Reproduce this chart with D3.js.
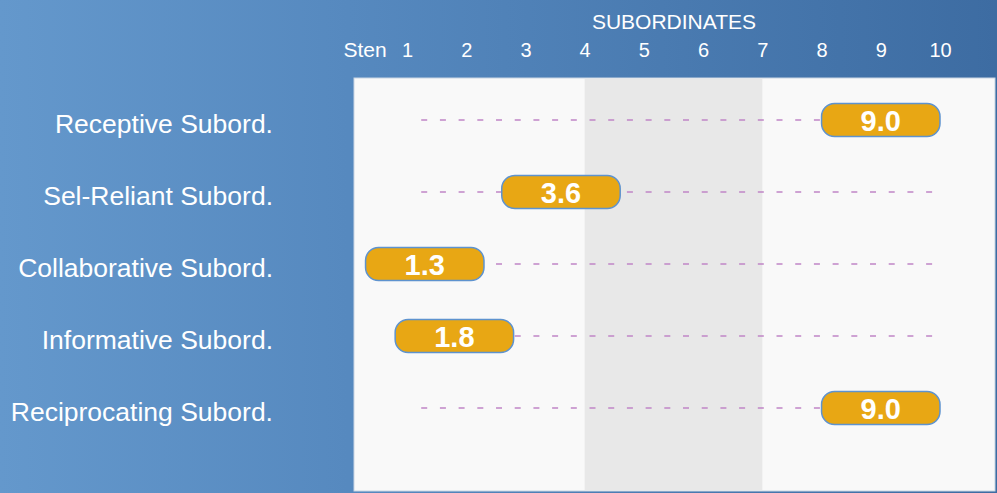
<!DOCTYPE html>
<html>
<head>
<meta charset="utf-8">
<script src="https://d3js.org/d3.v7.min.js"></script>
<style>
    body { margin: 0; padding: 0; overflow: hidden; }
    svg { display: block; font-family: "Liberation Sans", Arial, sans-serif; }
</style>
</head>
<body>
<div id="chart"></div>
<script>
    // data
    var scales = ["Receptive Subord.", "Sel-Reliant Subord.", "Collaborative Subord.", "Informative Subord.", "Reciprocating Subord."];
    var scores = [9.0, 3.6, 1.3, 1.8, 9.0];
    var stenTicks = [1, 2, 3, 4, 5, 6, 7, 8, 9, 10];
    var averageBand = [4, 7];
    var title = "SUBORDINATES";

    var W = 997, H = 493;
    var plot = { left: 354, right: 995, top: 78, bottom: 491 };

    var svg = d3.select("#chart").append("svg")
        .attr("width", W)
        .attr("height", H);

    var defs = svg.append("defs");
    var grad = defs.append("linearGradient")
        .attr("id", "bg")
        .attr("x1", "0%").attr("y1", "0%")
        .attr("x2", "100%").attr("y2", "0%");
    grad.append("stop").attr("offset", "0%").attr("stop-color", "#6498cc");
    grad.append("stop").attr("offset", "35%").attr("stop-color", "#5689bf");
    grad.append("stop").attr("offset", "100%").attr("stop-color", "#3d6ca2");

    svg.append("rect")
        .attr("width", W).attr("height", H)
        .attr("fill", "url(#bg)");

    var x = d3.scaleLinear()
        .domain([1, 10])
        .range([407, 940]);

    var y = d3.scaleBand()
        .domain(scales)
        .range([84, 444])
        .paddingInner(0)
        .align(0.5);

    // plot panel
    svg.append("rect")
        .attr("x", plot.left).attr("y", plot.top)
        .attr("width", plot.right - plot.left)
        .attr("height", plot.bottom - plot.top)
        .attr("fill", "#f9f9f9")
        .attr("stroke", "#c9d6e3")
        .attr("stroke-width", 1);

    svg.append("rect")
        .attr("x", x(averageBand[0]))
        .attr("y", plot.top + 0.5)
        .attr("width", x(averageBand[1]) - x(averageBand[0]))
        .attr("height", plot.bottom - plot.top - 1)
        .attr("fill", "#e8e8e8");

    // header
    svg.append("text")
        .attr("x", 674)
        .attr("y", 29)
        .attr("text-anchor", "middle")
        .attr("fill", "#ffffff")
        .style("font-size", "21px")
        .text(title);

    svg.append("text")
        .attr("x", 365)
        .attr("y", 57)
        .attr("text-anchor", "middle")
        .attr("fill", "#ffffff")
        .style("font-size", "21px")
        .text("Sten");

    var xAxis = svg.append("g")
        .attr("transform", "translate(0,57)")
        .call(d3.axisTop(x).tickValues(stenTicks).tickSize(0).tickPadding(0));
    xAxis.select(".domain").remove();
    xAxis.selectAll("text")
        .attr("fill", "#ffffff")
        .attr("dy", 0)
        .style("font-size", "20px")
        .style("font-family", "Liberation Sans, Arial, sans-serif");

    // row labels
    var yAxis = svg.append("g")
        .attr("transform", "translate(273,0)")
        .call(d3.axisLeft(y).tickSize(0).tickPadding(0));
    yAxis.select(".domain").remove();
    yAxis.selectAll("text")
        .attr("fill", "#ffffff")
        .attr("dy", "0.5em")
        .style("font-size", "26.5px")
        .style("font-family", "Liberation Sans, Arial, sans-serif");

    var rows = svg.append("g").selectAll("g")
        .data(scales)
        .join("g")
        .attr("transform", function (d) { return "translate(0," + (y(d) + y.bandwidth() / 2) + ")"; });

    rows.append("line")
        .attr("x1", x(1.24))
        .attr("x2", x(9.88))
        .attr("stroke", "#c085c6")
        .attr("stroke-width", 1.6)
        .attr("stroke-dasharray", "6,12.7");

    rows.append("rect")
        .attr("x", function (d, i) { return x(scores[i] - 1); })
        .attr("y", -16.5)
        .attr("width", function (d, i) { return x(scores[i] + 1) - x(scores[i] - 1); })
        .attr("height", 33)
        .attr("rx", 13)
        .attr("fill", "#e8a714")
        .attr("stroke", "#5e93cf")
        .attr("stroke-width", 1.5);

    rows.append("text")
        .attr("x", function (d, i) { return x(scores[i]); })
        .attr("y", 0)
        .attr("dy", "0.37em")
        .attr("text-anchor", "middle")
        .attr("fill", "#ffffff")
        .style("font-size", "29px")
        .style("font-weight", "bold")
        .text(function (d, i) { return scores[i].toFixed(1); });
</script>
</body>
</html>
